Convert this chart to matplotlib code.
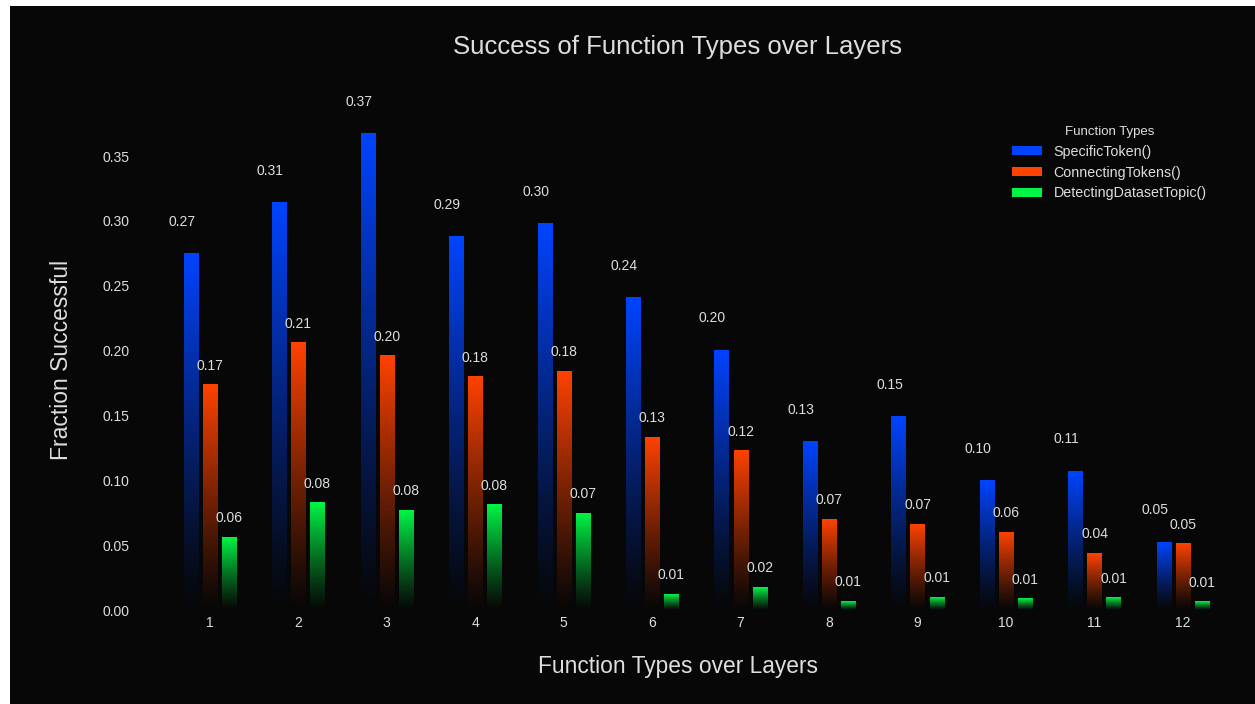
import matplotlib
matplotlib.use("Agg")

import matplotlib.pyplot as plt
import numpy as np
from matplotlib.colors import to_rgb
from matplotlib.patches import Patch, Rectangle

layers = [1, 2, 3, 4, 5, 6, 7, 8, 9, 10, 11, 12]
specific_token = [0.2745, 0.314, 0.367, 0.288, 0.298, 0.241, 0.2004, 0.130, 0.149, 0.100, 0.107, 0.0524]
connecting_tokens = [0.1735, 0.206, 0.196, 0.180, 0.184, 0.133, 0.1226, 0.070, 0.066, 0.060, 0.0439, 0.0509]
detecting_topic = [0.056, 0.0825, 0.077, 0.081, 0.0745, 0.012, 0.0177, 0.0069, 0.010, 0.0085, 0.0093, 0.0062]
series_names = ["SpecificToken()", "ConnectingTokens()", "DetectingDatasetTopic()"]
yticks = [0.00, 0.05, 0.10, 0.15, 0.20, 0.25, 0.30, 0.35]

BG = "#070707"
TEXT = "#dedede"
COLORS = ["#0044ff", "#ff4200", "#00f545"]
FONT = "Liberation Sans"

W, H = 1255, 704
plt.rcParams["font.family"] = [FONT, "DejaVu Sans"]

fig = plt.figure(figsize=(W / 100, H / 100), dpi=100, facecolor="white")
# dark panel, leaving a thin white strip at the top and left edges
fig.patches.append(Rectangle((10 / W, 0), 1 - 10 / W, 1 - 6 / H,
                             transform=fig.transFigure, facecolor=BG,
                             edgecolor="none", zorder=-10))

ax_left, ax_right, ax_bottom, ax_top = 150, 1230, 610, 91
ax = fig.add_axes([ax_left / W, 1 - ax_bottom / H,
                   (ax_right - ax_left) / W, (ax_bottom - ax_top) / H])
ax.set_facecolor("none")

offsets = [-0.215, 0.0, 0.215]
bar_w = 0.16
bg_rgb = np.array(to_rgb(BG))

for values, color, off in zip([specific_token, connecting_tokens, detecting_topic], COLORS, offsets):
    top_rgb = np.array(to_rgb(color))
    t = np.linspace(0, 1, 256)[:, None] ** 1.15
    grad = (bg_rgb + (top_rgb - bg_rgb) * t)[:, None, :]
    for x, v in zip(layers, values):
        ax.imshow(grad, extent=(x + off - bar_w / 2, x + off + bar_w / 2, 0, v),
                  origin="lower", aspect="auto", interpolation="bilinear", zorder=2)

# value labels above the bars
for i, (values, off) in enumerate(zip([specific_token, connecting_tokens, detecting_topic], offsets)):
    dx, dy = (-6.5, 20) if i == 0 else (0, 10.8)
    for x, v in zip(layers, values):
        ax.annotate(f"{v:.2f}", xy=(x + off, v), xytext=(dx, dy), textcoords="offset points",
                    ha="center", va="baseline", color=TEXT, fontsize=10)

ax.set_xlim(1 - (209.7 - ax_left) / 88.5, 12 + (ax_right - 1183) / 88.5)
ax.set_ylim(0, (ax_bottom - ax_top) / 1297.1)
ax.set_xticks(layers)
ax.set_yticks(yticks)
ax.set_yticklabels([f"{v:.2f}" for v in yticks])
ax.tick_params(axis="both", length=0, colors=TEXT, labelsize=10)
ax.tick_params(axis="y", pad=15)
ax.tick_params(axis="x", pad=4)
for s in ax.spines.values():
    s.set_visible(False)

fig.text(677.5 / W, 1 - 47 / H, "Success of Function Types over Layers",
         ha="center", va="center", color=TEXT, fontsize=18.5)
fig.text(677.5 / W, 1 - 666 / H, "Function Types over Layers",
         ha="center", va="center", color=TEXT, fontsize=16.4)
fig.text(61.7 / W, 1 - 360 / H, "Fraction Successful", rotation=90,
         ha="center", va="center", color=TEXT, fontsize=16.5)

handles = [Patch(facecolor=c, edgecolor="none") for c in COLORS]
leg = fig.legend(handles, series_names, title="Function Types", loc="upper left",
                 bbox_to_anchor=(999.5 / W, 1 - 113 / H), frameon=False, fontsize=10.3,
                 title_fontsize=9.5, handlelength=2.05, handleheight=0.63,
                 handletextpad=0.83, labelspacing=0.48, borderpad=0.4)
for txt in leg.get_texts():
    txt.set_color(TEXT)
leg.get_title().set_color(TEXT)

fig.savefig("out.png", dpi=100, facecolor=fig.get_facecolor())
plt.close(fig)
